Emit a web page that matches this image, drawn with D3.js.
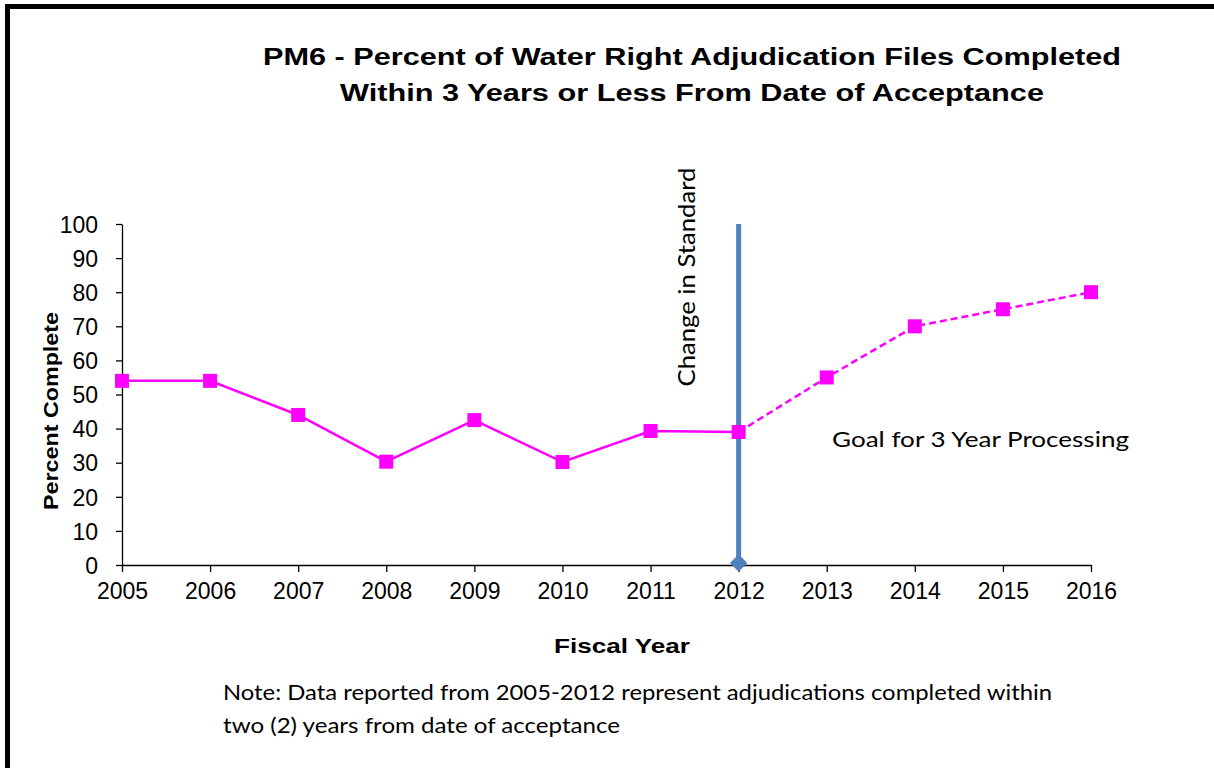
<!DOCTYPE html>
<html>
<head>
<meta charset="utf-8">
<script src="https://cdn.jsdelivr.net/npm/d3@7"></script>
<style>
  body { margin: 0; background: #fff; }
  svg { display: block; }
  .tick text { font-family: 'Liberation Sans', Arial, sans-serif; font-size: 23px; fill: #000; }
  .domain, .tick line { stroke: #000; stroke-width: 1.3; }
</style>
</head>
<body>
<div id="chart"></div>
<script>
// fiscal years on the x axis
var years = [2005, 2006, 2007, 2008, 2009, 2010, 2011, 2012, 2013, 2014, 2015, 2016];

// reported results (solid line)
var actualYears = [2005, 2006, 2007, 2008, 2009, 2010, 2011, 2012];
var actualValues = [54, 54, 44, 30.3, 42.5, 30.2, 39.3, 39];

// goal for 3 year processing (dashed line)
var goalYears = [2012, 2013, 2014, 2015, 2016];
var goalValues = [39, 55, 70, 75, 80];

var yTicks = [0, 10, 20, 30, 40, 50, 60, 70, 80, 90, 100];

var changeYear = 2012;

var width = 1214, height = 768;
var margin = {top: 224, left: 122, right: 123, bottom: 203};

var svg = d3.select('#chart').append('svg')
    .attr('width', width)
    .attr('height', height);

// frame lines on top and left
svg.append('line')
    .attr('x1', 5).attr('x2', width).attr('y1', 6.5).attr('y2', 6.5)
    .attr('stroke', '#000').attr('stroke-width', 5);
svg.append('line')
    .attr('x1', 7.5).attr('x2', 7.5).attr('y1', 4).attr('y2', height)
    .attr('stroke', '#000').attr('stroke-width', 5);

var x = d3.scaleLinear()
    .domain([2005, 2016])
    .range([margin.left, width - margin.right]);

var y = d3.scaleLinear()
    .domain([0, 100])
    .range([height - margin.bottom, margin.top]);

// axes
svg.append('g')
    .attr('transform', 'translate(0,' + (height - margin.bottom) + ')')
    .call(d3.axisBottom(x).tickValues(years).tickFormat(d3.format('d'))
        .tickSize(7).tickSizeOuter(0).tickPadding(11));

svg.append('g')
    .attr('transform', 'translate(' + margin.left + ',0)')
    .call(d3.axisLeft(y).tickValues(yTicks).tickSize(6).tickSizeOuter(0).tickPadding(18))
    .selectAll('text').attr('dy', '0.36em');

// title
var title = ['PM6 - Percent of Water Right Adjudication Files Completed',
             'Within 3 Years or Less From Date of Acceptance'];
var titleLen = [858, 704];
svg.append('g').selectAll('text')
    .data(title)
    .join('text')
    .attr('x', 692)
    .attr('y', function(d, i) { return 65 + i * 36; })
    .attr('text-anchor', 'middle')
    .attr('textLength', function(d, i) { return titleLen[i]; })
    .attr('lengthAdjust', 'spacingAndGlyphs')
    .style('font-family', "'Liberation Sans', Arial, sans-serif")
    .style('font-weight', 'bold')
    .style('font-size', '23px')
    .text(function(d) { return d; });

// axis titles
svg.append('text')
    .attr('transform', 'translate(58,411) rotate(-90)')
    .attr('text-anchor', 'middle')
    .attr('textLength', 198)
    .attr('lengthAdjust', 'spacingAndGlyphs')
    .style('font-family', "'Liberation Sans', Arial, sans-serif")
    .style('font-weight', 'bold')
    .style('font-size', '21px')
    .text('Percent Complete');

svg.append('text')
    .attr('x', 622)
    .attr('y', 653)
    .attr('text-anchor', 'middle')
    .attr('textLength', 136)
    .attr('lengthAdjust', 'spacingAndGlyphs')
    .style('font-family', "'Liberation Sans', Arial, sans-serif")
    .style('font-weight', 'bold')
    .style('font-size', '21px')
    .text('Fiscal Year');

// change in standard marker
svg.append('line')
    .attr('x1', x(changeYear)).attr('x2', x(changeYear))
    .attr('y1', y(100)).attr('y2', y(0) - 2)
    .attr('stroke', '#4f81bd')
    .attr('stroke-width', 5);

svg.append('path')
    .attr('d', d3.symbol().type(d3.symbolSquare).size(150)())
    .attr('transform', 'translate(' + x(changeYear) + ',' + (y(0) - 2) + ') rotate(45)')
    .attr('fill', '#4f81bd');

svg.append('text')
    .attr('transform', 'translate(695,' + 277 + ') rotate(-90)')
    .attr('text-anchor', 'middle')
    .attr('textLength', 219)
    .attr('lengthAdjust', 'spacingAndGlyphs')
    .style('font-family', "Lato, 'Open Sans', sans-serif")
    .style('font-size', '23px')
    .text('Change in Standard');

// data lines
var line = d3.line()
    .x(function(d) { return x(d[0]); })
    .y(function(d) { return y(d[1]); });

var actual = d3.zip(actualYears, actualValues);
var goal = d3.zip(goalYears, goalValues);

svg.append('path')
    .datum(actual)
    .attr('d', line)
    .attr('fill', 'none')
    .attr('stroke', '#ff00ff')
    .attr('stroke-width', 2.5);

svg.append('path')
    .datum(goal)
    .attr('d', line)
    .attr('fill', 'none')
    .attr('stroke', '#ff00ff')
    .attr('stroke-width', 2.5)
    .attr('stroke-dasharray', '7,4');

var sq = 14;
svg.append('g').selectAll('rect')
    .data(actual.concat(goal.slice(1)))
    .join('rect')
    .attr('x', function(d) { return x(d[0]) - sq / 2; })
    .attr('y', function(d) { return y(d[1]) - sq / 2; })
    .attr('width', sq)
    .attr('height', sq)
    .attr('fill', '#ff00ff');

// goal label
svg.append('text')
    .attr('x', 832)
    .attr('y', 447)
    .attr('textLength', 297)
    .attr('lengthAdjust', 'spacingAndGlyphs')
    .style('font-family', "Lato, 'Open Sans', sans-serif")
    .style('font-size', '22px')
    .text('Goal for 3 Year Processing');

// note below the chart
var note = ['Note: Data reported from 2005-2012 represent adjudications completed within',
            'two (2) years from date of acceptance'];
var noteLen = [829, 397];
svg.append('g').selectAll('text')
    .data(note)
    .join('text')
    .attr('x', 223)
    .attr('y', function(d, i) { return 700 + i * 33; })
    .attr('textLength', function(d, i) { return noteLen[i]; })
    .attr('lengthAdjust', 'spacingAndGlyphs')
    .style('font-family', "Lato, 'Open Sans', sans-serif")
    .style('font-size', '21px')
    .text(function(d) { return d; });
</script>
</body>
</html>
